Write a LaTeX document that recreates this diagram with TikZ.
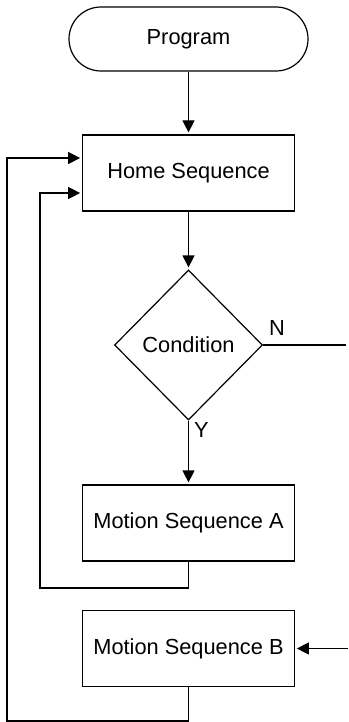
\documentclass[tikz,border=0pt]{standalone}
\usepackage{fontspec}
\setmainfont{Liberation Sans}
\usetikzlibrary{arrows.meta,shapes.geometric}

\begin{document}
\begin{tikzpicture}[x=0.5pt,y=-0.5pt,shorten >=1pt,node distance=67pt,
                    semithick,>={Triangle[length=6pt,width=6pt]},
                    every node/.style={font=\fontsize{10.9}{13}\selectfont},
                    term/.style={draw,rectangle,rounded corners=16pt,
                                 minimum width=119.5pt,minimum height=32pt},
                    proc/.style={draw,rectangle,minimum width=105.75pt,
                                 minimum height=38pt},
                    test/.style={draw,diamond,minimum width=74pt,
                                 minimum height=75pt,inner sep=0pt}]
      \useasboundingbox (0,0) rectangle (348,722);
      \node[term](prog) at (188.5,39)              {Program};
      \node[proc](home) [below of=prog]            {Home Sequence};
      \node[test](cond) [below of=home,node distance=86pt] {Condition};
      \node[proc](mota) [below of=cond,node distance=89pt] {Motion Sequence A};
      \node[proc](motb) [below of=mota,node distance=62.75pt] {Motion Sequence B};
      \node (nlab) at ([shift={(7pt,8.75pt)}]cond.east)   {N};
      \node (ylab) at ([shift={(6.5pt,-4.75pt)}]cond.south) {Y};
      % free ends and loop corners
      \coordinate (rim)   at (348,0);
      \coordinate (loopa) at (40,588);
      \coordinate (loopb) at (7,721);
      \draw[->] (prog) -- (home);
      \draw[->] (home) -- (cond);
      \draw[->] (cond) -- (mota);
      \draw     (cond.east) -- (cond.east -| rim);
      \draw[->] (rim |- motb.east) -- (motb.east);
      \draw[->] (mota.south) |- (loopa) |- ([yshift=-10pt]home.west);
      \draw[->] (motb.south) |- (loopb) |- ([yshift=7.5pt]home.west);
\end{tikzpicture}
\end{document}
